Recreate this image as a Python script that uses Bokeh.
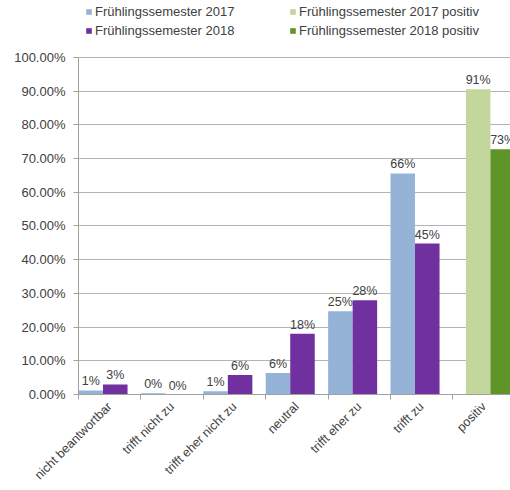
from bokeh.plotting import figure
from bokeh.models import (ColumnDataSource, FixedTicker, PrintfTickFormatter,
                          Legend, LegendItem, Range1d)
from bokeh.transform import dodge
from bokeh.core.properties import value
from bokeh.embed import file_html
from bokeh.resources import INLINE

# ---- data ----
categories = ["nicht beantwortbar", "trifft nicht zu", "trifft eher nicht zu",
              "neutral", "trifft eher zu", "trifft zu"]
fs2017 = [1.2, 0.4, 1.0, 6.4, 24.7, 65.6]
fs2018 = [3.0, 0.0, 5.8, 18.0, 28.0, 44.8]
pos_category = ["positiv"]
pos2017 = [90.6]
pos2018 = [72.8]
y_ticks = [0, 10, 20, 30, 40, 50, 60, 70, 80, 90, 100]
series_names = ["Frühlingssemester 2017", "Frühlingssemester 2018",
                "Frühlingssemester 2017 positiv", "Frühlingssemester 2018 positiv"]

all_cats = categories + pos_category
idx = list(range(len(categories)))
pidx = [len(categories)]

def pct(vals):
    return [f"{round(v):.0f}%" for v in vals]

src = ColumnDataSource(dict(i=idx, a=fs2017, b=fs2018, la=pct(fs2017), lb=pct(fs2018)))
psrc = ColumnDataSource(dict(i=pidx, a=pos2017, b=pos2018, la=pct(pos2017), lb=pct(pos2018)))

FONT = "Liberation Sans"
TXT = "#404040"

# frame reaches the top of the canvas; the space above 100% holds the legend
p = figure(width=510, height=490, output_backend="svg", toolbar_location=None,
           x_range=Range1d(0, 6.923), y_range=Range1d(0, 116.9),
           min_border_left=78, min_border_right=0, min_border_top=0,
           outline_line_color=None, background_fill_color="white")

W = 0.393
c1 = "#95B3D7"; c2 = "#7030A0"; c3 = "#C3D69B"; c4 = "#5F9428"

r1 = p.vbar(x=dodge("i", W / 2, range=p.x_range), top="a", width=W, source=src,
            fill_color=c1, line_color=None)
r2 = p.vbar(x=dodge("i", W * 1.5, range=p.x_range), top="b", width=W, source=src,
            fill_color=c2, line_color=None)
r3 = p.vbar(x=dodge("i", 0.208 + W / 2, range=p.x_range), top="a", width=W, source=psrc,
            fill_color=c3, line_color=None)
r4 = p.vbar(x=dodge("i", 0.208 + W * 1.5, range=p.x_range), top="b", width=W, source=psrc,
            fill_color=c4, line_color=None)

lbl = dict(text_align="center", text_baseline="bottom", y_offset=-2,
           text_font=value(FONT), text_font_size="12.5px", text_color=TXT)
p.text(x=dodge("i", W / 2, range=p.x_range), y="a", text="la", source=src, **lbl)
p.text(x=dodge("i", W * 1.5, range=p.x_range), y="b", text="lb", source=src, **lbl)
p.text(x=dodge("i", 0.208 + W / 2, range=p.x_range), y="a", text="la", source=psrc, **lbl)
p.text(x=dodge("i", 0.208 + W * 1.5, range=p.x_range), y="b", text="lb", source=psrc, **lbl)

# y axis
p.yaxis.ticker = FixedTicker(ticks=y_ticks)
p.yaxis.bounds = (0, 100)
p.yaxis.formatter = PrintfTickFormatter(format="%.2f%%")
p.yaxis.axis_line_color = "#A0A0A0"
p.yaxis.major_tick_line_color = "#A0A0A0"
p.yaxis.major_tick_out = 5
p.yaxis.major_tick_in = 0
p.yaxis.minor_tick_line_color = None
p.yaxis.major_label_standoff = 8
p.yaxis.major_label_text_font = FONT
p.yaxis.major_label_text_font_size = "13px"
p.yaxis.major_label_text_color = TXT

p.ygrid.ticker = FixedTicker(ticks=y_ticks)
p.ygrid.grid_line_color = "#B4B4B4"
p.xgrid.visible = False

# x axis: labels at centers, ticks at boundaries
centers = [i + 0.5 for i in range(len(all_cats))]
bounds = list(range(len(all_cats) + 1))
p.xaxis.ticker = FixedTicker(ticks=centers, minor_ticks=bounds)
p.xaxis.major_label_overrides = {c: t for c, t in zip(centers, all_cats)}
p.xaxis.major_label_orientation = 0.785398
p.xaxis.axis_line_color = "#A0A0A0"
p.xaxis.major_tick_line_color = None
p.xaxis.minor_tick_line_color = "#A0A0A0"
p.xaxis.minor_tick_out = 5
p.xaxis.minor_tick_in = 0
p.xaxis.major_label_standoff = 4
p.xaxis.major_label_text_font = FONT
p.xaxis.major_label_text_font_size = "12.5px"
p.xaxis.major_label_text_color = TXT

legend = Legend(items=[LegendItem(label=n, renderers=[r]) for n, r in
                       zip(series_names, [r1, r2, r3, r4])],
                ncols=2, location=(7, 356),
                border_line_color=None, background_fill_alpha=0, padding=0, spacing=4,
                glyph_width=7, glyph_height=7, label_height=14, label_width=190,
                label_standoff=3, label_text_font=FONT, label_text_font_size="13px",
                label_text_color=TXT, margin=0)
p.add_layout(legend, "center")

open("out.html", "w").write(file_html(p, INLINE))
